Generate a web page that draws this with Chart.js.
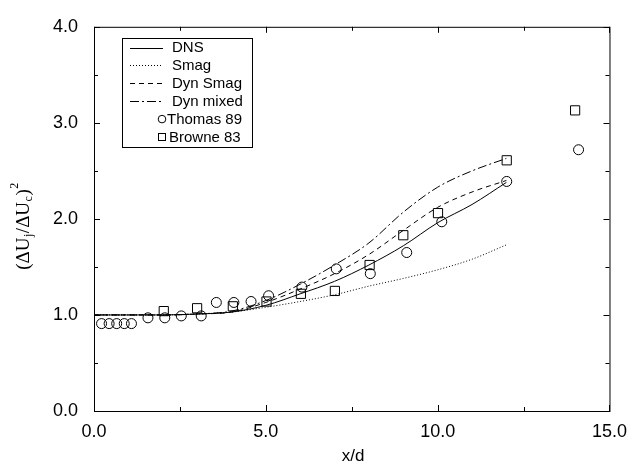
<!DOCTYPE html>
<html lang="en">
<head>
  <meta charset="UTF-8" />
  <title>Jet velocity decay</title>
  <style>
    html, body { margin: 0; padding: 0; background: #fff; }
    #wrap { width: 637px; height: 468px; }
  </style>
  <script src="https://cdn.jsdelivr.net/npm/chart.js"></script>
</head>
<body>
  <div id="wrap"><canvas id="chart" width="637" height="468"></canvas></div>
  <script>
    // LES curves (x/d, value)
    const curveX = [0, 1, 2, 3, 4, 5, 6, 7, 8, 9, 10, 11, 12];
    const dnsY = [1.0, 1.0, 1.0, 1.01, 1.03, 1.10, 1.22, 1.35, 1.52, 1.72, 1.96, 2.15, 2.38];
    const smagY = [1.0, 1.0, 1.0, 1.01, 1.03, 1.08, 1.14, 1.21, 1.30, 1.38, 1.47, 1.58, 1.73];
    const dynSmagY = [1.0, 1.0, 1.0, 1.01, 1.03, 1.13, 1.27, 1.43, 1.63, 1.88, 2.12, 2.28, 2.40];
    const dynMixedY = [1.0, 1.0, 1.0, 1.01, 1.04, 1.15, 1.32, 1.52, 1.75, 2.07, 2.33, 2.50, 2.63];

    // experiments
    const thomasX = [0.22, 0.44, 0.66, 0.88, 1.09, 1.57, 2.06, 2.54, 3.12, 3.56, 4.07, 4.57, 5.08, 6.05, 7.05, 8.04, 9.10, 10.12, 12.01, 14.1];
    const thomasY = [0.91, 0.91, 0.91, 0.91, 0.91, 0.97, 0.97, 0.99, 0.99, 1.13, 1.13, 1.14, 1.20, 1.29, 1.48, 1.43, 1.65, 1.97, 2.39, 2.72];
    const browneX = [2.03, 3.0, 4.04, 5.02, 6.02, 7.01, 8.02, 9.0, 10.01, 12.01, 14.0];
    const browneY = [1.04, 1.07, 1.09, 1.14, 1.22, 1.25, 1.52, 1.83, 2.06, 2.61, 3.13];

    const xTicks = [0, 5, 10, 15];
    const yTicks = [0, 1, 2, 3, 4];

    const pts = (xs, ys) => xs.map((x, i) => ({ x: x, y: ys[i] }));

    const lineStyle = (label, ys, dash) => ({
      label: label,
      data: pts(curveX, ys),
      showLine: true,
      borderColor: '#000',
      borderWidth: 1,
      borderDash: dash,
      pointRadius: 0,
      tension: 0.4,
      cubicInterpolationMode: 'monotone',
      fill: false
    });

    const datasets = [
      lineStyle('DNS', dnsY, []),
      lineStyle('Smag', smagY, [1, 2]),
      lineStyle('Dyn Smag', dynSmagY, [5, 4]),
      lineStyle('Dyn mixed', dynMixedY, [9, 3, 2, 3]),
      {
        label: 'Thomas 89',
        data: pts(thomasX, thomasY),
        showLine: false,
        pointStyle: 'circle',
        pointRadius: 5,
        pointBackgroundColor: 'rgba(0,0,0,0)',
        pointBorderColor: '#000',
        pointBorderWidth: 1
      },
      {
        label: 'Browne 83',
        data: pts(browneX, browneY),
        showLine: false,
        pointStyle: 'rect',
        pointRadius: 6.5,
        pointBackgroundColor: 'rgba(0,0,0,0)',
        pointBorderColor: '#000',
        pointBorderWidth: 1
      }
    ];

    // frame, inward ticks, axis titles and the boxed legend
    const decorations = {
      id: 'decorations',
      afterDraw(chart) {
        const ctx = chart.ctx;
        const a = chart.chartArea;
        const sx = chart.scales.x, sy = chart.scales.y;
        ctx.save();
        ctx.strokeStyle = '#000';
        ctx.lineWidth = 1;
        ctx.setLineDash([]);
        ctx.strokeRect(a.left + 0.5, a.top + 0.5, a.right - a.left, a.bottom - a.top);

        ctx.beginPath();
        for (let v = 0; v <= 15; v += 2.5) {
          const px = Math.round(sx.getPixelForValue(v)) + 0.5;
          const len = v % 5 === 0 ? 6 : 4;
          ctx.moveTo(px, a.bottom); ctx.lineTo(px, a.bottom - len);
          ctx.moveTo(px, a.top); ctx.lineTo(px, a.top + len);
        }
        for (let v = 0; v <= 4; v += 0.5) {
          const py = Math.round(sy.getPixelForValue(v)) + 0.5;
          const len = v % 1 === 0 ? 6 : 4;
          ctx.moveTo(a.left, py); ctx.lineTo(a.left + len, py);
          ctx.moveTo(a.right, py); ctx.lineTo(a.right - len, py);
        }
        ctx.stroke();

        // x title
        ctx.fillStyle = '#000';
        ctx.font = '17px "Liberation Sans", Arial, sans-serif';
        ctx.textAlign = 'center';
        ctx.textBaseline = 'middle';
        ctx.fillText('x/d', 353, 456);

        // y title with sub/superscripts
        ctx.save();
        ctx.translate(24, 226);
        ctx.rotate(-Math.PI / 2);
        const big = '19px "Liberation Serif", "Times New Roman", serif';
        const small = '12px "Liberation Serif", "Times New Roman", serif';
        const parts = [
          ['(\u0394U', big, 0], ['j', small, 5], ['/\u0394U', big, 0],
          ['c', small, 5], [')', big, 0], ['2', small, -9]
        ];
        let total = 0;
        parts.forEach(p => { ctx.font = p[1]; total += ctx.measureText(p[0]).width + 0.5; });
        let cx = -total / 2;
        ctx.textAlign = 'left';
        ctx.textBaseline = 'middle';
        parts.forEach(p => {
          ctx.font = p[1];
          ctx.fillText(p[0], cx, p[2]);
          cx += ctx.measureText(p[0]).width + 0.5;
        });
        ctx.restore();

        // legend
        const bx = 122, by = 38, bw = 130, bh = 109;
        ctx.strokeRect(bx + 0.5, by + 0.5, bw, bh);
        ctx.font = '15px "Liberation Sans", Arial, sans-serif';
        ctx.textAlign = 'left';
        ctx.textBaseline = 'middle';
        const rowY = i => by + 9.5 + i * 17.9;
        for (let i = 0; i < 4; i++) {
          const d = datasets[i];
          const y = Math.round(rowY(i)) + 0.5;
          ctx.beginPath();
          ctx.setLineDash(d.borderDash);
          ctx.moveTo(130, y); ctx.lineTo(163, y);
          ctx.stroke();
          ctx.setLineDash([]);
          ctx.fillText(d.label, 172, rowY(i) + 0.5);
        }
        ctx.beginPath();
        ctx.arc(162, rowY(4), 3.8, 0, Math.PI * 2);
        ctx.stroke();
        ctx.fillText(datasets[4].label, 167, rowY(4) + 0.5);
        ctx.strokeRect(158.5, Math.round(rowY(5)) - 3.5, 7, 7);
        ctx.fillText(datasets[5].label, 169, rowY(5) + 0.5);
        ctx.restore();
      }
    };

    new Chart(document.getElementById('chart'), {
      type: 'scatter',
      data: { datasets: datasets },
      options: {
        responsive: false,
        animation: false,
        layout: { padding: { top: 18, right: 25, left: 0, bottom: 0 } },
        plugins: {
          legend: { display: false },
          tooltip: { enabled: false }
        },
        scales: {
          x: {
            type: 'linear',
            min: 0, max: 15,
            afterFit: s => { s.height = 57; },
            afterBuildTicks: s => { s.ticks = xTicks.map(v => ({ value: v })); },
            grid: { display: false, drawTicks: false },
            border: { display: false },
            ticks: {
              padding: 10,
              color: '#000',
              font: { family: '"Liberation Sans", Arial, sans-serif', size: 18 },
              maxRotation: 0,
              callback: v => v.toFixed(1)
            }
          },
          y: {
            type: 'linear',
            min: 0, max: 4,
            afterFit: s => { s.width = 94; },
            afterBuildTicks: s => { s.ticks = yTicks.map(v => ({ value: v })); },
            grid: { display: false, drawTicks: false },
            border: { display: false },
            ticks: {
              padding: 16,
              color: '#000',
              font: { family: '"Liberation Sans", Arial, sans-serif', size: 18 },
              callback: v => v.toFixed(1)
            }
          }
        }
      },
      plugins: [decorations]
    });
  </script>
</body>
</html>
